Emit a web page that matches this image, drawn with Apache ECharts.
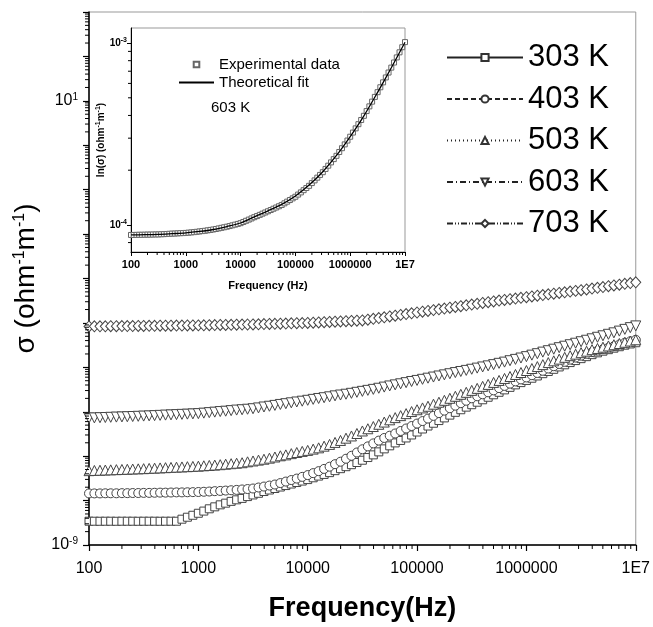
<!DOCTYPE html>
<html><head><meta charset="utf-8">
<script src="https://cdn.jsdelivr.net/npm/echarts@6/dist/echarts.min.js"></script>
<style>html,body{margin:0;padding:0;background:#fff}#c{width:653px;height:627px}</style>
</head><body><div id="c"></div>
<script>
// Frequencies (Hz)
const freq = [100,112,126,141,158,178,200,224,251,282,316,355,398,447,501,562,631,708,794,891,
1000,1122,1259,1413,1585,1778,1995,2239,2512,2818,3162,3548,3981,4467,5012,5623,6310,7079,7943,8913,
10000,11220,12590,14130,15850,17780,19950,22390,25120,28180,31620,35480,39810,44670,50120,56230,63100,70790,79430,89130,
100000,112200,125900,141300,158500,177800,199500,223900,251200,281800,316200,354800,398100,446700,501200,562300,631000,707900,794300,891300,
1000000,1122000,1259000,1413000,1585000,1778000,1995000,2239000,2512000,2818000,3162000,3548000,3981000,4467000,5012000,5623000,6310000,7079000,7943000,8913000,
10000000];

const sigma303 = [3.43e-9,3.43e-9,3.42e-9,3.43e-9,3.43e-9,3.42e-9,3.43e-9,3.43e-9,3.43e-9,3.42e-9,3.43e-9,3.43e-9,3.43e-9,3.42e-9,3.43e-9,3.43e-9,3.43e-9,
3.81e-9,4.22e-9,4.67e-9,5.18e-9,5.80e-9,6.53e-9,7.23e-9,8.02e-9,8.75e-9,9.60e-9,1.04e-8,1.12e-8,1.23e-8,1.34e-8,1.46e-8,1.60e-8,1.73e-8,1.87e-8,2.02e-8,2.18e-8,2.36e-8,2.55e-8,2.75e-8,
2.97e-8,3.26e-8,3.56e-8,3.88e-8,4.26e-8,4.72e-8,5.23e-8,5.80e-8,6.43e-8,7.20e-8,8.10e-8,9.31e-8,1.07e-7,1.25e-7,1.46e-7,1.71e-7,1.99e-7,2.26e-7,2.57e-7,3.00e-7,
3.50e-7,4.09e-7,4.77e-7,5.51e-7,6.33e-7,7.27e-7,8.40e-7,9.70e-7,1.11e-6,1.27e-6,1.44e-6,1.64e-6,1.86e-6,2.12e-6,2.41e-6,2.74e-6,3.11e-6,3.54e-6,4.03e-6,4.53e-6,
5.07e-6,5.68e-6,6.39e-6,7.20e-6,8.06e-6,9.02e-6,1.02e-5,1.14e-5,1.28e-5,1.42e-5,1.57e-5,1.74e-5,1.93e-5,2.12e-5,2.31e-5,2.50e-5,2.70e-5,2.91e-5,3.15e-5,3.36e-5,
3.58e-5];

const sigma403 = [1.45e-8,1.45e-8,1.45e-8,1.46e-8,1.46e-8,1.46e-8,1.47e-8,1.47e-8,1.48e-8,1.48e-8,1.49e-8,
1.49e-8,1.50e-8,1.51e-8,1.51e-8,1.52e-8,1.53e-8,1.53e-8,1.54e-8,1.55e-8,1.56e-8,
1.58e-8,1.60e-8,1.63e-8,1.65e-8,1.68e-8,1.71e-8,1.74e-8,1.78e-8,1.82e-8,1.87e-8,
1.97e-8,2.07e-8,2.18e-8,2.30e-8,2.48e-8,2.68e-8,2.90e-8,3.13e-8,3.42e-8,3.75e-8,
4.15e-8,4.60e-8,5.17e-8,5.80e-8,6.60e-8,7.50e-8,8.75e-8,1.02e-7,1.21e-7,1.43e-7,
1.66e-7,1.94e-7,2.24e-7,2.57e-7,2.89e-7,3.24e-7,3.69e-7,4.20e-7,4.77e-7,5.42e-7,
6.17e-7,7.01e-7,8.08e-7,9.31e-7,1.06e-6,1.20e-6,1.37e-6,1.56e-6,1.77e-6,2.01e-6,
2.23e-6,2.47e-6,2.74e-6,3.03e-6,3.41e-6,3.82e-6,4.29e-6,4.82e-6,5.34e-6,5.92e-6,
6.65e-6,7.46e-6,8.37e-6,9.40e-6,1.06e-5,1.19e-5,1.33e-5,1.49e-5,1.66e-5,1.83e-5,
2.01e-5,2.20e-5,2.37e-5,2.56e-5,2.77e-5,2.99e-5,3.27e-5,3.58e-5,3.86e-5,4.17e-5];

const sigma503 = [4.72e-8,4.77e-8,4.82e-8,4.87e-8,4.92e-8,4.97e-8,5.02e-8,5.07e-8,5.13e-8,5.18e-8,
5.23e-8,5.30e-8,5.37e-8,5.44e-8,5.51e-8,5.58e-8,5.65e-8,5.72e-8,5.80e-8,5.87e-8,
5.95e-8,6.07e-8,6.18e-8,6.30e-8,6.43e-8,6.60e-8,6.77e-8,6.94e-8,7.12e-8,7.46e-8,
7.79e-8,8.14e-8,8.53e-8,9.02e-8,9.57e-8,1.02e-7,1.07e-7,1.14e-7,1.21e-7,1.28e-7,
1.35e-7,1.44e-7,1.54e-7,1.68e-7,1.84e-7,2.04e-7,2.26e-7,2.54e-7,2.85e-7,3.24e-7,
3.69e-7,4.14e-7,4.65e-7,5.22e-7,5.86e-7,6.58e-7,7.38e-7,8.18e-7,9.07e-7,1.01e-6,
1.11e-6,1.22e-6,1.33e-6,1.48e-6,1.64e-6,1.81e-6,2.01e-6,2.23e-6,2.47e-6,2.74e-6,
3.03e-6,3.36e-6,3.73e-6,4.13e-6,4.58e-6,5.07e-6,5.62e-6,6.23e-6,6.91e-6,7.65e-6,
8.48e-6,9.40e-6,1.04e-5,1.15e-5,1.28e-5,1.40e-5,1.53e-5,1.68e-5,1.83e-5,1.98e-5,
2.14e-5,2.31e-5,2.50e-5,2.66e-5,2.84e-5,3.03e-5,3.23e-5,3.44e-5,3.67e-5,3.91e-5,
4.17e-5];

const sigma603 = [7.20e-7,7.27e-7,7.35e-7,7.42e-7,7.50e-7,7.58e-7,7.65e-7,7.73e-7,7.81e-7,7.90e-7,
7.98e-7,8.08e-7,8.18e-7,8.29e-7,8.40e-7,8.50e-7,8.62e-7,8.73e-7,8.84e-7,8.95e-7,
9.07e-7,9.31e-7,9.55e-7,9.80e-7,1.01e-6,1.03e-6,1.06e-6,1.09e-6,1.11e-6,1.14e-6,
1.17e-6,1.22e-6,1.28e-6,1.33e-6,1.39e-6,1.46e-6,1.52e-6,1.59e-6,1.66e-6,1.73e-6,
1.81e-6,1.90e-6,1.99e-6,2.07e-6,2.17e-6,2.28e-6,2.38e-6,2.48e-6,2.60e-6,2.74e-6,
2.88e-6,3.03e-6,3.19e-6,3.38e-6,3.59e-6,3.81e-6,4.03e-6,4.26e-6,4.52e-6,4.80e-6,
5.07e-6,5.37e-6,5.70e-6,6.04e-6,6.39e-6,6.77e-6,7.18e-6,7.62e-6,8.06e-6,8.53e-6,
9.05e-6,9.60e-6,1.02e-5,1.08e-5,1.15e-5,1.23e-5,1.31e-5,1.41e-5,1.51e-5,1.62e-5,
1.74e-5,1.88e-5,2.03e-5,2.20e-5,2.37e-5,2.56e-5,2.77e-5,2.99e-5,3.23e-5,3.49e-5,
3.77e-5,4.07e-5,4.39e-5,4.75e-5,5.13e-5,5.54e-5,5.98e-5,6.54e-5,7.16e-5,7.83e-5,
8.57e-5];

const sigma703 = [8.35e-5,8.37e-5,8.39e-5,8.41e-5,8.44e-5,8.46e-5,8.48e-5,8.50e-5,8.52e-5,8.55e-5,
8.57e-5,8.59e-5,8.61e-5,8.64e-5,8.66e-5,8.68e-5,8.71e-5,8.73e-5,8.75e-5,8.78e-5,
8.80e-5,8.84e-5,8.89e-5,8.94e-5,8.98e-5,9.03e-5,9.07e-5,9.12e-5,9.17e-5,9.21e-5,
9.26e-5,9.33e-5,9.40e-5,9.48e-5,9.55e-5,9.62e-5,9.70e-5,9.77e-5,9.85e-5,9.92e-5,
1.000e-4,1.013e-4,1.026e-4,1.039e-4,1.053e-4,1.066e-4,1.080e-4,1.094e-4,1.108e-4,1.122e-4,
1.137e-4,1.185e-4,1.234e-4,1.286e-4,1.340e-4,1.397e-4,1.456e-4,1.517e-4,1.580e-4,1.647e-4,
1.716e-4,1.788e-4,1.863e-4,1.941e-4,2.022e-4,2.107e-4,2.196e-4,2.288e-4,2.384e-4,2.484e-4,
2.588e-4,2.697e-4,2.810e-4,2.928e-4,3.050e-4,3.178e-4,3.295e-4,3.416e-4,3.541e-4,3.671e-4,
3.806e-4,3.946e-4,4.091e-4,4.241e-4,4.396e-4,4.557e-4,4.724e-4,4.898e-4,5.077e-4,5.263e-4,
5.454e-4,5.683e-4,5.922e-4,6.171e-4,6.430e-4,6.698e-4,6.979e-4,7.272e-4,7.578e-4,7.896e-4,
8.227e-4];

// Inset (603 K): experimental data and theoretical fit
const insetExp = [8.81e-5,8.81e-5,8.82e-5,8.83e-5,8.83e-5,8.84e-5,8.85e-5,8.85e-5,8.86e-5,8.87e-5,
8.87e-5,8.89e-5,8.90e-5,8.92e-5,8.94e-5,8.96e-5,8.97e-5,8.99e-5,9.01e-5,9.02e-5,
9.04e-5,9.07e-5,9.10e-5,9.13e-5,9.17e-5,9.21e-5,9.25e-5,9.29e-5,9.34e-5,9.39e-5,
9.44e-5,9.50e-5,9.57e-5,9.64e-5,9.71e-5,9.78e-5,9.86e-5,9.95e-5,1.004e-4,1.013e-4,
1.023e-4,1.038e-4,1.054e-4,1.070e-4,1.086e-4,1.103e-4,1.119e-4,1.136e-4,1.154e-4,1.171e-4,
1.189e-4,1.208e-4,1.228e-4,1.247e-4,1.267e-4,1.288e-4,1.315e-4,1.343e-4,1.371e-4,1.400e-4,
1.429e-4,1.469e-4,1.510e-4,1.553e-4,1.596e-4,1.641e-4,1.699e-4,1.758e-4,1.820e-4,1.884e-4,
1.950e-4,2.032e-4,2.118e-4,2.208e-4,2.301e-4,2.399e-4,2.518e-4,2.642e-4,2.773e-4,2.911e-4,
3.055e-4,3.221e-4,3.397e-4,3.581e-4,3.776e-4,3.981e-4,4.227e-4,4.487e-4,4.764e-4,5.058e-4,
5.370e-4,5.714e-4,6.081e-4,6.470e-4,6.885e-4,7.328e-4,7.817e-4,8.338e-4,8.894e-4,9.488e-4,
1.012e-3];
const fitFreq = [100,178,316,562,1000,1778,3162,5623,10000,17780,31620,56230,100000,177800,316200,562300,1000000,1778000,3162000,5623000,10000000];
const fitVal = [8.81e-5,8.84e-5,8.87e-5,8.95e-5,9.04e-5,9.21e-5,9.44e-5,9.80e-5,1.025e-4,1.108e-4,1.196e-4,1.297e-4,1.442e-4,1.656e-4,1.962e-4,2.410e-4,3.06e-4,3.98e-4,5.36e-4,7.31e-4,1.01e-3];

const seriesNames = ['303 K','403 K','503 K','603 K','703 K'];
const xTickLabels = ['100','1000','10000','100000','1000000','1E7'];
const yLabelExps = [-9, 1];
const insetYLabelExps = [-4, -3];

const allSigma = [sigma303, sigma403, sigma503, sigma603, sigma703];
const symbols = ['rect','circle','triangle','triangle','diamond'];
const symRot = [0,0,0,180,0];
const symSize = [8,9,10,10,[10,11]];
const dashes = ['solid',[5,3],[1,3],[6,3,1,3],[6,2,1,2,1,2]];

const FONT = 'Liberation Sans, Arial, sans-serif';
function pair(xs, ys){ return xs.map((x,i)=>[x, ys[i]]); }
function xLabel(v){ const e = Math.round(Math.log10(v)); return xTickLabels[e-2] || ''; }
function supLabel(list){
  return function(v){
    const l = Math.log10(v), e = Math.round(l);
    if (Math.abs(l-e) > 1e-6 || list.indexOf(e) < 0) return '';
    return '{b|10}{s|' + e + '}';
  };
}

// minor ticks (2..9 per decade) drawn through the axes' own coordinate mapping
function minorVals(lo, hi){ const out=[]; for(let d=lo; d<hi; d++) for(let m=2;m<=9;m++) out.push(m*Math.pow(10,d)); return out; }
function tickSeries(xi, vals, dir, len, xFix, yFix){
  return {type:'custom', xAxisIndex:xi, yAxisIndex:xi, silent:true, clip:false, z:10,
    data: vals.map(v => dir==='x' ? [v, yFix] : [xFix, v]),
    renderItem: function(p, api){
      const pt = api.coord([api.value(0), api.value(1)]);
      const shape = dir==='x' ? {x1:pt[0],y1:pt[1],x2:pt[0],y2:pt[1]+len} : {x1:pt[0],y1:pt[1],x2:pt[0]-len,y2:pt[1]};
      return {type:'line', shape:shape, style:{stroke:'#000', lineWidth:1}};
    }};
}

const series = [];
// connecting lines (carry the legend entries: line style + symbol)
allSigma.forEach((d,i)=>series.push({
  name: seriesNames[i], type:'line', xAxisIndex:0, yAxisIndex:0,
  data: pair(freq, d), symbol: symbols[i], symbolRotate: symRot[i], symbolSize: symSize[i],
  showSymbol:false, clip:true,
  itemStyle:{color:'#fff', borderColor:'#333', borderWidth:1},
  lineStyle:{color:'#222', width:1, type: dashes[i]},
  emphasis:{disabled:true}, z: 3
}));
// measured points (every point drawn)
allSigma.forEach((d,i)=>series.push({
  name: seriesNames[i] + ' points', type:'scatter', xAxisIndex:0, yAxisIndex:0,
  data: pair(freq, d), symbol: symbols[i], symbolRotate: symRot[i], symbolSize: symSize[i],
  itemStyle:{color:'#fff', borderColor:'#444', borderWidth:1, opacity:1},
  emphasis:{disabled:true}, z: 4+i
}));
series.push({name:'Experimental data', type:'line', xAxisIndex:1, yAxisIndex:1, data: pair(freq, insetExp),
  symbol:'rect', symbolSize:5, showSymbol:true, showAllSymbol:true, lineStyle:{width:0, opacity:0},
  itemStyle:{color:'#fff', borderColor:'#666', borderWidth:1},
  emphasis:{disabled:true}, z:20});
series.push({name:'Theoretical fit', type:'line', xAxisIndex:1, yAxisIndex:1, data: pair(fitFreq, fitVal), smooth:0.3,
  symbol:'none', showSymbol:false, itemStyle:{color:'#000'}, lineStyle:{color:'#000', width:1.3}, emphasis:{disabled:true}, z:21});
series.push(tickSeries(0, minorVals(2,7), 'x', 4, null, 1e-9));
series.push(tickSeries(0, minorVals(-9,3), 'y', 4, 100, null));
series.push(tickSeries(1, minorVals(2,7), 'x', 3, null, 7.1e-5));
series.push(tickSeries(1, minorVals(-5,-2).filter(v=>v>7.1e-5 && v<1.21e-3), 'y', 3, 100, null));

const option = {
  animation:false,
  textStyle:{fontFamily:FONT},
  grid:[
    {left:89, top:12, width:549, height:537, show:true, borderColor:'#999', borderWidth:1, backgroundColor:'#fff'},
    {left:131, top:28, width:274, height:224, show:true, borderColor:'#999', borderWidth:1, backgroundColor:'#fff', z:5}
  ],
  xAxis:[
    {type:'log', gridIndex:0, min:100, max:1e7, splitLine:{show:false},
     axisLine:{lineStyle:{color:'#000', width:1.5}}, axisTick:{length:6, lineStyle:{color:'#000', width:1.2}},
     axisLabel:{formatter:xLabel, fontSize:16, color:'#000', margin:16, fontFamily:FONT, showMinLabel:true, showMaxLabel:true},
     name:'Frequency(Hz)', nameLocation:'middle', nameGap:50,
     nameTextStyle:{fontSize:27, fontWeight:'bold', color:'#000', fontFamily:FONT}},
    {type:'log', gridIndex:1, min:100, max:1e7, splitLine:{show:false}, z:6,
     axisLine:{lineStyle:{color:'#000', width:1}}, axisTick:{length:4, lineStyle:{color:'#000'}},
     axisLabel:{formatter:xLabel, fontSize:11, fontWeight:'bold', color:'#000', margin:7, fontFamily:FONT},
     name:'Frequency (Hz)', nameLocation:'middle', nameGap:28,
     nameTextStyle:{fontSize:11, fontWeight:'bold', color:'#000', fontFamily:FONT}}
  ],
  yAxis:[
    {type:'log', gridIndex:0, min:1e-9, max:1e3, splitNumber:12, interval:1, splitLine:{show:false},
     axisLine:{lineStyle:{color:'#000', width:1.5}}, axisTick:{length:6, lineStyle:{color:'#000', width:1.2}},
     axisLabel:{formatter:supLabel(yLabelExps), margin:11, color:'#000',
       rich:{b:{fontSize:16, fontFamily:FONT, color:'#000'}, s:{fontSize:10, fontFamily:FONT, color:'#000', verticalAlign:'top', padding:[0,0,8,0]}}},
     name:'{a|σ (ohm}{s|-1}{a|m}{s|-1}{a|)}', nameLocation:'middle', nameGap:43, nameRotate:90,
     nameTextStyle:{rich:{a:{fontSize:28, fontFamily:FONT, color:'#000'}, s:{fontSize:16, fontFamily:FONT, color:'#000', verticalAlign:'top', padding:[0,0,14,0]}}}},
    {type:'log', gridIndex:1, min:7.1e-5, max:1.21e-3, splitLine:{show:false}, z:6,
     axisLine:{lineStyle:{color:'#000', width:1}}, axisTick:{length:4, lineStyle:{color:'#000'}},
     axisLabel:{formatter:supLabel(insetYLabelExps), margin:4, showMinLabel:false, showMaxLabel:false,
       rich:{b:{fontSize:10, fontWeight:'bold', fontFamily:FONT, color:'#000'}, s:{fontSize:7, fontWeight:'bold', fontFamily:FONT, color:'#000', verticalAlign:'top', padding:[0,0,5,0]}}},
     name:'{a|ln(σ) (ohm}{s|-1}{a|m}{s|-1}{a|)}', nameLocation:'middle', nameGap:9, nameRotate:90,
     nameTextStyle:{rich:{a:{fontSize:10, fontWeight:'bold', fontFamily:FONT, color:'#000'}, s:{fontSize:7, fontWeight:'bold', fontFamily:FONT, color:'#000', verticalAlign:'top', padding:[0,0,5,0]}}}}
  ],
  legend:[
    {data:seriesNames, orient:'vertical', left:441, top:37, itemWidth:76, itemHeight:9, itemGap:10.5, align:'left',
     selectedMode:false, textStyle:{fontSize:31, color:'#000', fontFamily:FONT}},
    {data:['Experimental data', {name:'Theoretical fit', itemStyle:{opacity:0}}], orient:'vertical', left:173, top:52, itemWidth:35, itemHeight:7, itemGap:3, z:30,
     selectedMode:false, textStyle:{fontSize:15, color:'#000', fontFamily:FONT}}
  ],
  graphic:[{type:'text', left:211, top:100, z:30, style:{text:'603 K', fontSize:15, fill:'#000', fontFamily:FONT}}],
  series: series
};
const chart = echarts.init(document.getElementById('c'), null, {renderer:'canvas'});
chart.setOption(option);
</script></body></html>
